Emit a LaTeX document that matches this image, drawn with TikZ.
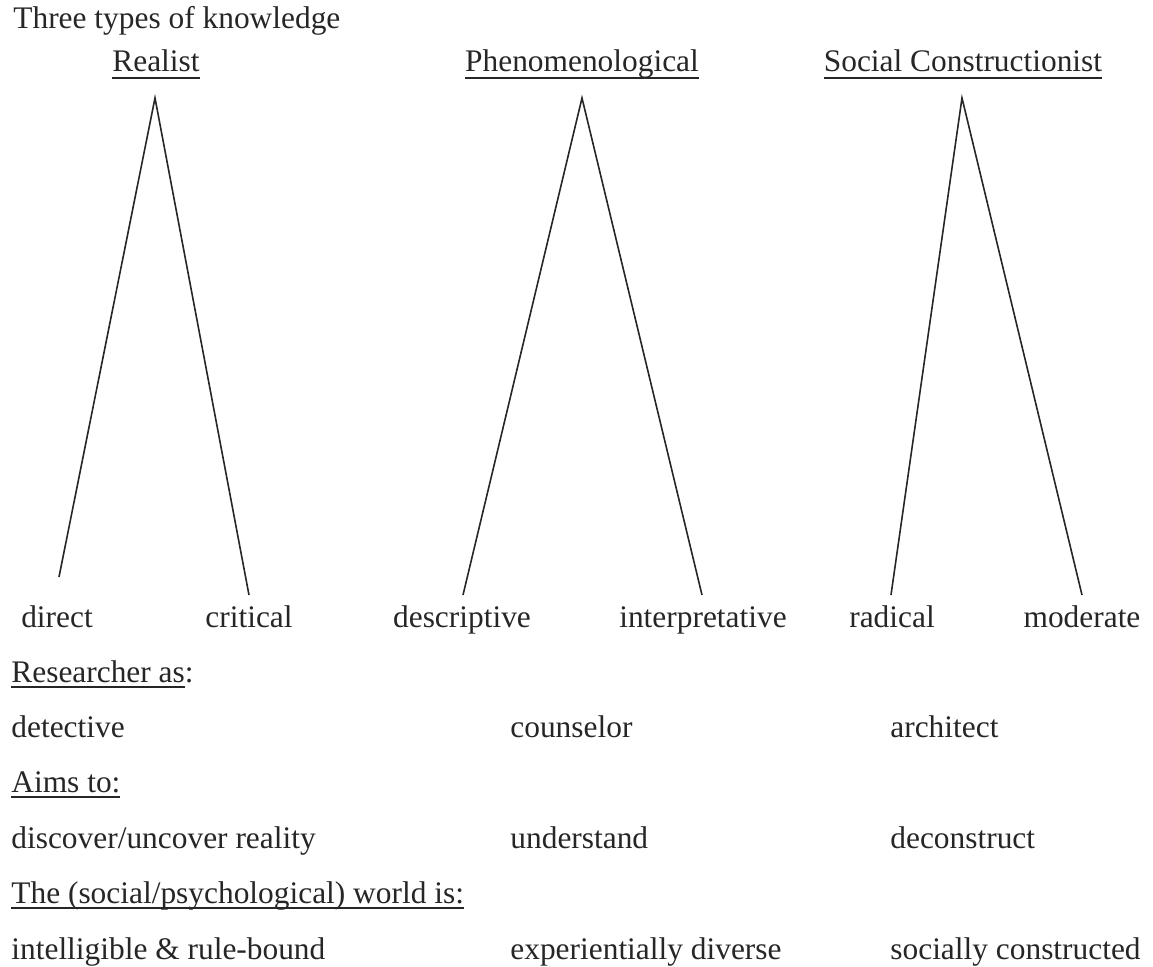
\documentclass[tikz,border=0pt]{standalone}
\usepackage{fontspec}
\setmainfont{Liberation Serif}
\newlength{\ulwd}
\newcommand{\thul}[1]{\settowidth{\ulwd}{#1}\rlap{\rule[-3pt]{\ulwd}{0.9pt}}#1}
\newcommand{\hdul}[1]{\settowidth{\ulwd}{#1}\rlap{\rule[-4pt]{\ulwd}{1pt}}#1}
\begin{document}
\begin{tikzpicture}[x=0.5pt,y=-0.5pt,
  txt/.style={inner sep=0pt,text=black!85,font=\fontsize{15.7}{18}\selectfont},
  leg/.style={line width=0.8pt,color=black!85}]
\useasboundingbox (0,0) rectangle (1153,966);
\node[txt,anchor=base west] (title) at (13,28) {Three types of knowledge};
% headings
\node[txt,anchor=base] (real) at (156,71) {\hdul{Realist}};
\node[txt,anchor=base] (phen) at (582,71) {\hdul{Phenomenological}};
\node[txt,anchor=base] (soc) at (963,71) {\hdul{Social Constructionist}};
% apexes and feet
\coordinate (ra) at (155,98);
\coordinate (pa) at (582,98);
\coordinate (sa) at (962,98);
\coordinate (r1) at (59,577);
\coordinate (r2) at (249,595);
\coordinate (p1) at (463,595);
\coordinate (p2) at (702,595);
\coordinate (s1) at (891,595);
\coordinate (s2) at (1082,595);
\draw[leg] (r1) -- (ra) -- (r2);
\draw[leg] (p1) -- (pa) -- (p2);
\draw[leg] (s1) -- (sa) -- (s2);
% kinds
\node[txt,anchor=base] (direct) at (57,627) {direct};
\node[txt,anchor=base] (critical) at (249,627) {critical};
\node[txt,anchor=base] (descr) at (462,627) {descriptive};
\node[txt,anchor=base] (interp) at (703,627) {interpretative};
\node[txt,anchor=base] (radical) at (892,627) {radical};
\node[txt,anchor=base] (moder) at (1082,627) {moderate};
% rows
\node[txt,anchor=base west] (rsh) at (11,682) {\thul{Researcher as}:};
\node[txt,anchor=base west] (det) at (11,737) {detective};
\node[txt,anchor=base west] (cou) at (510,737) {counselor};
\node[txt,anchor=base west] (arc) at (890,737) {architect};
\node[txt,anchor=base west] (aim) at (11,792) {\thul{Aims to:}};
\node[txt,anchor=base west] (disc) at (11,848) {discover/uncover reality};
\node[txt,anchor=base west] (und) at (510,848) {understand};
\node[txt,anchor=base west] (dec) at (890,848) {deconstruct};
\node[txt,anchor=base west] (wld) at (11,903) {\thul{The (social/psychological) world is:}};
\node[txt,anchor=base west] (intel) at (11,959) {intelligible \& rule-bound};
\node[txt,anchor=base west] (exp) at (510,959) {experientially diverse};
\node[txt,anchor=base west] (scon) at (890,959) {socially constructed};
\end{tikzpicture}
\end{document}
